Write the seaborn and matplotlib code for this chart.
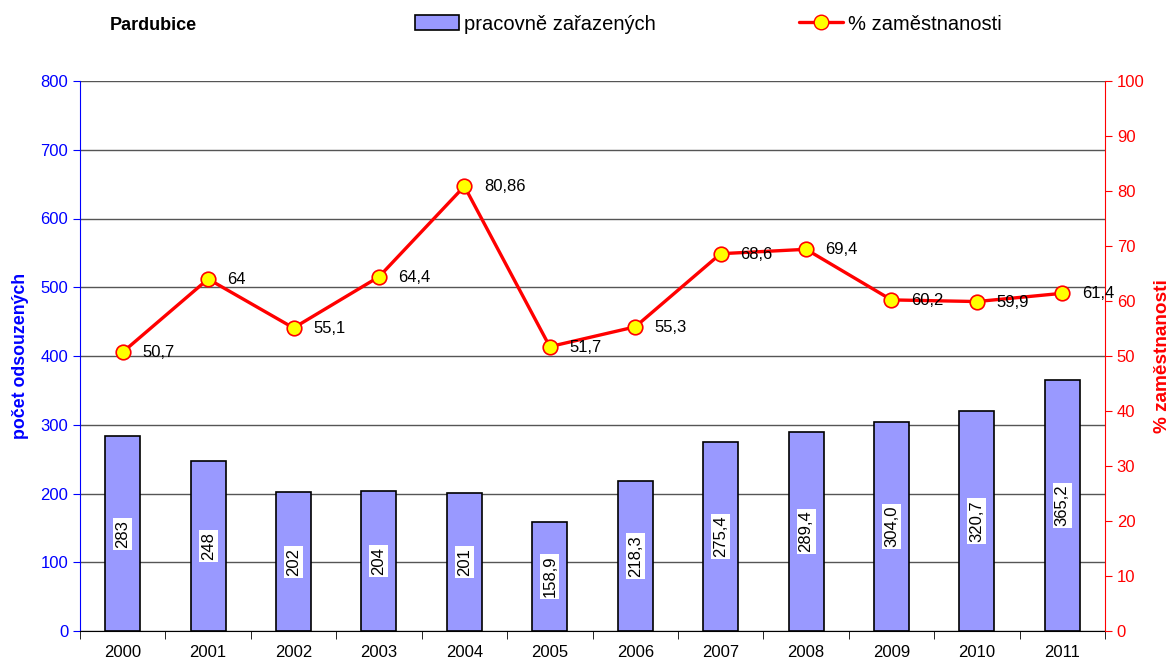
import numpy as np
import pandas as pd
import matplotlib
matplotlib.use('Agg')
import matplotlib.pyplot as plt
import seaborn as sns
from matplotlib.patches import Patch
from matplotlib.lines import Line2D

roky = ['2000', '2001', '2002', '2003', '2004', '2005', '2006', '2007', '2008', '2009', '2010', '2011']
zarazeni = [283, 248, 202, 204, 201, 158.9, 218.3, 275.4, 289.4, 304.0, 320.7, 365.2]
zarazeni_txt = ['283', '248', '202', '204', '201', '158,9', '218,3', '275,4', '289,4', '304,0', '320,7', '365,2']
zamestnanost = [50.7, 64, 55.1, 64.4, 80.86, 51.7, 55.3, 68.6, 69.4, 60.2, 59.9, 61.4]
zam_txt = ['50,7', '64', '55,1', '64,4', '80,86', '51,7', '55,3', '68,6', '69,4', '60,2', '59,9', '61,4']

df = pd.DataFrame({'rok': roky, 'zarazeni': zarazeni, 'zam': zamestnanost})

sns.set_style('white')
plt.rcParams['font.family'] = ['Liberation Sans', 'DejaVu Sans']
plt.rcParams['text.color'] = 'black'
plt.rcParams['xtick.color'] = 'black'

fig = plt.figure(figsize=(11.74, 6.62), dpi=100)
ax = fig.add_axes([80 / 1174, 1 - 631 / 662, 1025 / 1174, 550 / 662])

sns.barplot(data=df, x='rok', y='zarazeni', ax=ax, color='#9999ff', saturation=1,
            width=0.41, edgecolor='black', linewidth=1.2, zorder=2)
ax.set_ylim(0, 800)
ax.set_xlim(-0.5, len(roky) - 0.5)
ax.set_yticks(range(0, 801, 100))
ax.yaxis.grid(True, color='#555555', linewidth=1)
ax.set_axisbelow(True)
ax.tick_params(axis='y', colors='blue', labelsize=12, direction='out', length=5, left=True)
ax.tick_params(axis='x', labelsize=12, length=0, pad=10, labelcolor='black')
ax.set_xticks(np.arange(-0.5, len(roky), 1), minor=True)
ax.tick_params(axis='x', which='minor', length=6, bottom=True, direction='out', color='black')
ax.set_xlabel('')
ax.set_ylabel('počet odsouzených', color='blue', fontsize=12.8, fontweight='bold', labelpad=8)
for s in ['top', 'right']:
    ax.spines[s].set_visible(False)
ax.spines['left'].set_color('blue')
ax.spines['bottom'].set_color('black')

for i, (v, t) in enumerate(zip(zarazeni, zarazeni_txt)):
    ax.text(i, v / 2, t, rotation=90, ha='center', va='center', fontsize=12, color='black',
            bbox=dict(facecolor='white', edgecolor='none', pad=1.5), zorder=4)

ax2 = ax.twinx()
sns.pointplot(data=df, x='rok', y='zam', ax=ax2, color='red', markers='o',
              linewidth=2.4, markersize=10.5)
for ln in ax2.lines:
    ln.set_markerfacecolor('yellow')
    ln.set_markeredgecolor('red')
    ln.set_markeredgewidth(1.2)
ax2.set_ylim(0, 100)
ax2.set_xlim(-0.5, len(roky) - 0.5)
ax2.set_yticks(range(0, 101, 10))
ax2.tick_params(axis='y', colors='red', labelsize=12, direction='out', length=5, right=True)
ax2.set_ylabel('% zaměstnanosti', color='red', fontsize=13.7, fontweight='bold', labelpad=7)
ax2.set_xlabel('')
for s in ['top', 'left', 'bottom']:
    ax2.spines[s].set_visible(False)
ax2.spines['right'].set_color('red')

for i, (v, t) in enumerate(zip(zamestnanost, zam_txt)):
    ax2.annotate(t, (i, v), xytext=(14, -0.5), textcoords='offset points',
                 ha='left', va='center', fontsize=12, color='black')

fig.text(110 / 1174, 1 - 26 / 662, 'Pardubice', fontsize=13, fontweight='bold', va='center')
handles = [Patch(facecolor='#9999ff', edgecolor='black', linewidth=1.2),
           Line2D([0], [0], color='red', linewidth=2.4, marker='o', markersize=10.5,
                  markerfacecolor='yellow', markeredgecolor='red')]
fig.legend(handles, ['pracovně zařazených', '% zaměstnanosti'], loc='center left',
           bbox_to_anchor=(415 / 1174, 1 - 24 / 662), ncol=2, frameon=False, borderpad=0,
           borderaxespad=0, fontsize=14.5, columnspacing=7.1, handlelength=2.2,
           handletextpad=0.25)

fig.savefig('out.png', dpi=100)
